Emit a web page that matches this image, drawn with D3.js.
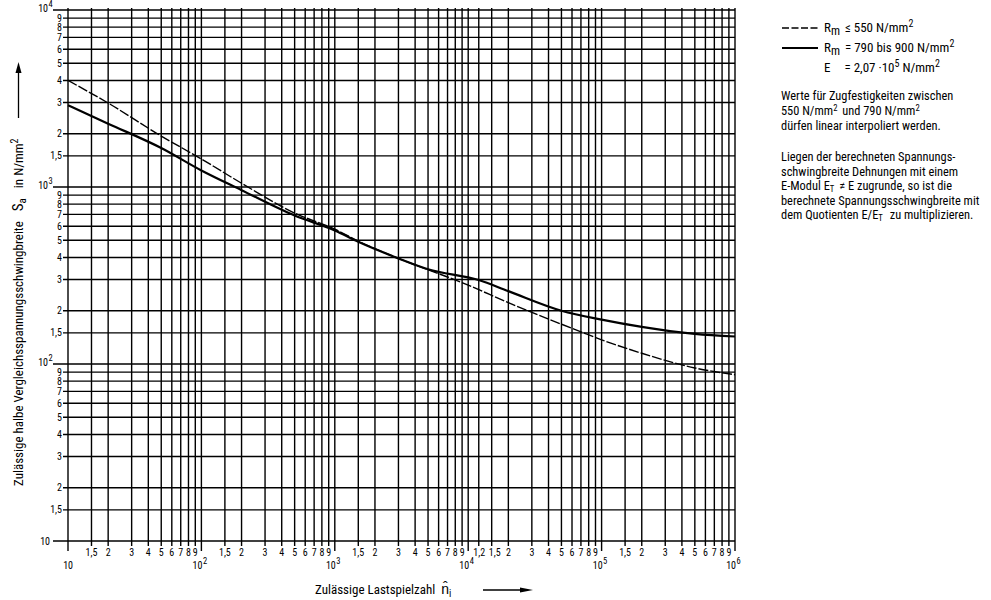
<!DOCTYPE html>
<html><head><meta charset="utf-8">
<script src="https://cdn.jsdelivr.net/npm/d3@7"></script>
<style>
body{margin:0;background:#fff}
text{font-family:"Liberation Sans Narrow","Arial Narrow","Roboto Condensed",sans-serif;fill:#000}
</style>
</head><body>
<svg id="c" width="991" height="600"></svg>
<script>
// ---------- data ----------
const xDecades = [10, 100, 1000, 10000, 100000, 1000000];
const xDecadeExp = ["", "2", "3", "4", "5", "6"];
const minorFactors = [1.5, 2, 3, 4, 5, 6, 7, 8, 9];
const minorLabels = ["1,5", "2", "3", "4", "5", "6", "7", "8", "9"];
const xExtraTicks = [12000];
const xExtraLabels = ["1,2"];
const yDecades = [10, 100, 1000, 10000];
const yDecadeExp = ["", "2", "3", "4"];

const nValues      = [10, 20, 50, 100, 200, 500, 1000, 1500, 3000, 10000, 20000, 70000, 100000, 200000, 500000, 1000000];
const rm550Values  = [4000, 2980, 1940, 1440, 1050, 712, 578, 494, 395, 279, 222, 152, 137, 115, 95, 87];

const nSolid       = [10, 20, 50, 100, 200, 500, 1000, 1500, 3000, 5000, 12000, 20000, 50000, 100000, 200000, 500000, 1000000];
const rm790Values  = [2900, 2280, 1660, 1240, 960, 690, 568, 490, 395, 343, 298, 258, 200, 178, 162, 148, 143];

// ---------- scales ----------
const svg = d3.select("#c");
const x = d3.scaleLog().domain([10, 1e6]).range([68, 735]);
const y = d3.scaleLog().domain([10, 1e4]).range([541, 10]);
const plotTop = y(1e4), plotBottom = y(10), plotLeft = x(10), plotRight = x(1e6);

const grid = svg.append("g").attr("stroke", "#000").attr("stroke-width", 1.4).attr("fill", "none");

// vertical grid
const xMinorVals = [];
xDecades.slice(0, -1).forEach(d => minorFactors.forEach((f, i) => xMinorVals.push({v: d * f, l: minorLabels[i]})));
xExtraTicks.forEach((v, i) => xMinorVals.push({v, l: xExtraLabels[i]}));

grid.selectAll("line.vm").data(xMinorVals).join("line")
  .attr("x1", d => x(d.v)).attr("x2", d => x(d.v)).attr("y1", plotTop - 2).attr("y2", plotBottom + 5);
grid.selectAll("line.vd").data(xDecades).join("line")
  .attr("x1", d => x(d)).attr("x2", d => x(d)).attr("y1", plotTop - 2).attr("y2", plotBottom + 10);

// horizontal grid
const yMinorVals = [];
yDecades.slice(0, -1).forEach(d => minorFactors.forEach((f, i) => yMinorVals.push({v: d * f, l: minorLabels[i]})));
grid.selectAll("line.hm").data(yMinorVals).join("line")
  .attr("y1", d => y(d.v)).attr("y2", d => y(d.v)).attr("x1", plotLeft - 5).attr("x2", plotRight);
grid.selectAll("line.hd").data(yDecades).join("line")
  .attr("y1", d => y(d)).attr("y2", d => y(d)).attr("x1", plotLeft - 15).attr("x2", plotRight);

// ---------- tick labels ----------
const lab = svg.append("g").attr("font-size", 10);
lab.selectAll("text.xm").data(xMinorVals).join("text")
  .attr("x", d => x(d.v) + (d.v === 12000 ? 0.5 : d.v === 15000 ? 3 : 0))
  .attr("y", plotBottom + 15).attr("text-anchor", "middle").text(d => d.l);
xDecades.forEach((d, i) => {
  lab.append("text").attr("x", x(d) + (i === 0 ? 5 : 1)).attr("y", plotBottom + 28).attr("text-anchor", "end").text("10");
  if (xDecadeExp[i]) lab.append("text").attr("x", x(d) + 1.5).attr("y", plotBottom + 23).attr("font-size", 8.5).text(xDecadeExp[i]);
});
lab.selectAll("text.ym").data(yMinorVals).join("text")
  .attr("x", plotLeft - 6).attr("y", d => y(d.v) + 3.5).attr("text-anchor", "end").text(d => d.l);
yDecades.forEach((d, i) => {
  const ex = yDecadeExp[i];
  lab.append("text").attr("x", ex ? 48 : 50).attr("y", y(d) + (ex ? 2 : 4)).attr("text-anchor", "end").text("10");
  if (ex) lab.append("text").attr("x", 48.5).attr("y", y(d) - 3).attr("font-size", 8.5).text(ex);
});

// ---------- curves ----------
const lineGen = d3.line().x(d => x(d[0])).y(d => y(d[1])).curve(d3.curveMonotoneX);
svg.append("path").datum(nValues.map((n, i) => [n, rm550Values[i]]))
  .attr("d", lineGen).attr("fill", "none").attr("stroke", "#000").attr("stroke-width", 1.4)
  .attr("stroke-dasharray", "10,2");
svg.append("path").datum(nSolid.map((n, i) => [n, rm790Values[i]]))
  .attr("d", lineGen).attr("fill", "none").attr("stroke", "#000").attr("stroke-width", 2.2);

// ---------- rich text helper ----------
function rich(g, px, py, parts, size, subShift) {
  const t = g.append("text").attr("x", px).attr("y", py).attr("font-size", size);
  let off = 0;
  parts.forEach(p => {
    const target = p.sub ? size * (subShift || 0.25) : p.sup ? -size * 0.35 : 0;
    const ts = t.append("tspan").attr("dy", target - off).text(p.t);
    if (p.dx) ts.attr("dx", p.dx);
    if (p.size) ts.attr("font-size", p.size);
    else if (p.sub || p.sup) ts.attr("font-size", size * 0.7);
    off = target;
  });
  return t;
}

// ---------- legend ----------
const leg = svg.append("g");
leg.append("line").attr("x1", 782).attr("x2", 818).attr("y1", 28).attr("y2", 28)
  .attr("stroke", "#000").attr("stroke-width", 1.4).attr("stroke-dasharray", "7,2.5");
leg.append("line").attr("x1", 782).attr("x2", 818).attr("y1", 48).attr("y2", 48)
  .attr("stroke", "#000").attr("stroke-width", 2.2);
rich(leg, 824, 32, [{t: "R"}, {t: "m", sub: true, size: 12}, {t: " ≤ 550 N/mm", dx: 2}, {t: "2", sup: true, size: 10}], 13);
rich(leg, 824, 52, [{t: "R"}, {t: "m", sub: true, size: 12}, {t: " = 790 bis 900 N/mm", dx: 2}, {t: "2", sup: true, size: 10}], 13);
rich(leg, 824, 72, [{t: "E"}, {t: "= 2,07 ·10", dx: 14}, {t: "5", sup: true, size: 10}, {t: " N/mm"}, {t: "2", sup: true, size: 10}], 13);

const notes = [
  [{t: "Werte für Zugfestigkeiten zwischen"}],
  [{t: "550 N/mm"}, {t: "2", sup: true}, {t: " und 790 N/mm", dx: 2}, {t: "2", sup: true}],
  [{t: "dürfen linear interpoliert werden."}],
  null,
  [{t: "Liegen der berechneten Spannungs-"}],
  [{t: "schwingbreite Dehnungen mit einem"}],
  [{t: "E-Modul E"}, {t: "T", sub: true}, {t: " ≠ E zugrunde, so ist die", dx: 2}],
  [{t: "berechnete Spannungsschwingbreite mit"}],
  [{t: "dem Quotienten E/E"}, {t: "T", sub: true}, {t: " zu multiplizieren.", dx: 4}]
];
const noteY = [100, 115, 130, null, 161, 175.5, 190, 204.5, 219];
notes.forEach((n, i) => { if (n) rich(leg, 781, noteY[i], n, 12.4, 0.15); });

// ---------- axis titles ----------
const yt = svg.append("g").attr("transform", "translate(23,486) rotate(-90)");
rich(yt, 0, 0, [
  {t: "Zulässige halbe Vergleichsspannungsschwingbreite"},
  {t: "S", dx: 10, size: 15}, {t: "a", sub: true, size: 11},
  {t: "in N/mm", dx: 10}, {t: "2", sup: true, size: 10}
], 13);
// y arrow
svg.append("line").attr("x1", 18.5).attr("x2", 18.5).attr("y1", 118).attr("y2", 72)
  .attr("stroke", "#000").attr("stroke-width", 1.3);
svg.append("path").attr("d", "M18.5,62 L15.5,73 L21.5,73 Z").attr("fill", "#000");

// x title
rich(svg, 315, 594, [{t: "Zulässige Lastspielzahl"}, {t: "n\u0302", dx: 6, size: 14}, {t: "i", sub: true, size: 10}], 13);
svg.append("line").attr("x1", 483).attr("x2", 522).attr("y1", 590).attr("y2", 590)
  .attr("stroke", "#000").attr("stroke-width", 1.3);
svg.append("path").attr("d", "M533,590 L520,587.5 L520,592.5 Z").attr("fill", "#000");
</script>
</body></html>
